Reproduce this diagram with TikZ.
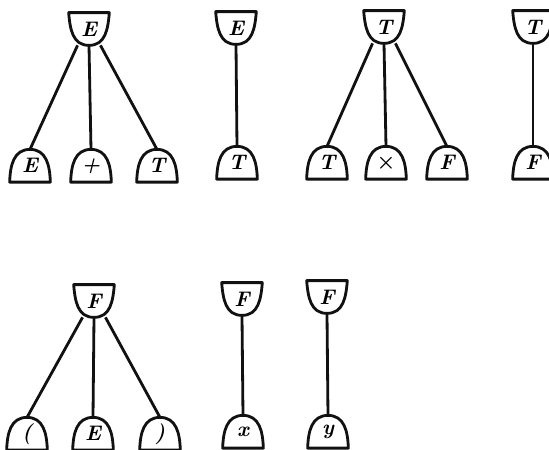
\documentclass[tikz,border=0pt]{standalone}
\usepackage{amsmath,amssymb}
\usepackage{tikz}
\usetikzlibrary{calc,backgrounds}
\definecolor{vink}{HTML}{111111}
\tikzset{
  hd/.style={minimum width=0.8cm,minimum height=0.64cm,inner sep=0pt,font=\large\bfseries\itshape},
  kid/.style={minimum width=0.8cm,minimum height=0.64cm,inner sep=0pt,font=\large\bfseries\itshape,yshift=-1pt},
  lnk/.style={line width=1.6pt,draw=vink},
  rim/.style={line width=1.6pt,draw=vink,fill=white,line join=round},
}

\begin{document}
\begin{tikzpicture}[x=0.02cm,y=-0.02cm]
  \useasboundingbox (0,0) rectangle (549,450);
  % E -> E + T
  \node[hd] (p1) at (89,29) {E};
  \node[kid] (a1) at (30,164) {E};
  \node[kid] (a2) at (91,164) {+};
  \node[kid] (a3) at (157,164) {T};
  % E -> T
  \node[hd] (p2) at (236,28) {E};
  \node[kid] (b1) at (237,161) {T};
  % T -> T x F
  \node[hd] (p3) at (384,27) {T};
  \node[kid] (c1) at (327,161) {T};
  \node[kid] (c2) at (386,161) {$\boldsymbol{\times}$};
  \node[kid] (c3) at (447,161) {F};
  % T -> F
  \node[hd] (p4) at (533,27) {T};
  \node[kid] (d1) at (533,161) {F};
  % F -> ( E )
  \node[hd] (p5) at (94,301) {F};
  \node[kid] (e1) at (27,432) {(};
  \node[kid] (e2) at (93,432) {E};
  \node[kid] (e3) at (160,432) {)};
  % F -> x, F -> y
  \node[hd] (p6) at (242,299) {F};
  \node[kid] (f1) at (243,430) {x};
  \node[hd] (p7) at (327,297) {F};
  \node[kid] (g1) at (328,430) {y};

  \begin{scope}[on background layer]
    \draw[lnk] (p1.-125) -- (a1.north);
    \draw[lnk] (p1.south) -- (a2.north);
    \draw[lnk] (p1.-55) -- (a3.north);
    \draw[lnk] (p2.south) -- (b1.north);
    \draw[lnk] (p3.-125) -- (c1.north);
    \draw[lnk] (p3.south) -- (c2.north);
    \draw[lnk] (p3.-55) -- (c3.north);
    \draw[lnk] (p4.south) -- (d1.north);
    \draw[lnk] (p5.-125) -- (e1.north);
    \draw[lnk] (p5.south) -- (e2.north);
    \draw[lnk] (p5.-55) -- (e3.north);
    \draw[lnk] (p6.south) -- (f1.north);
    \draw[lnk] (p7.south) -- (g1.north);
    % shield outlines for the heads, domes for the kids
    \foreach \n in {p1,p2,p3,p4,p5,p6,p7}
      \draw[rim] (\n.north west) -- (\n.north east) to[out=-95,in=0,looseness=1.1] (\n.south)
        to[out=180,in=-85,looseness=1.1] (\n.north west) -- cycle;
    \foreach \n in {a1,a2,a3,b1,c1,c2,c3,d1,e1,e2,e3,f1,g1}
      \draw[rim] (\n.south west) -- (\n.south east) to[out=92,in=0,looseness=1.1] (\n.north)
        to[out=180,in=88,looseness=1.1] (\n.south west) -- cycle;
  \end{scope}
\end{tikzpicture}
\end{document}
